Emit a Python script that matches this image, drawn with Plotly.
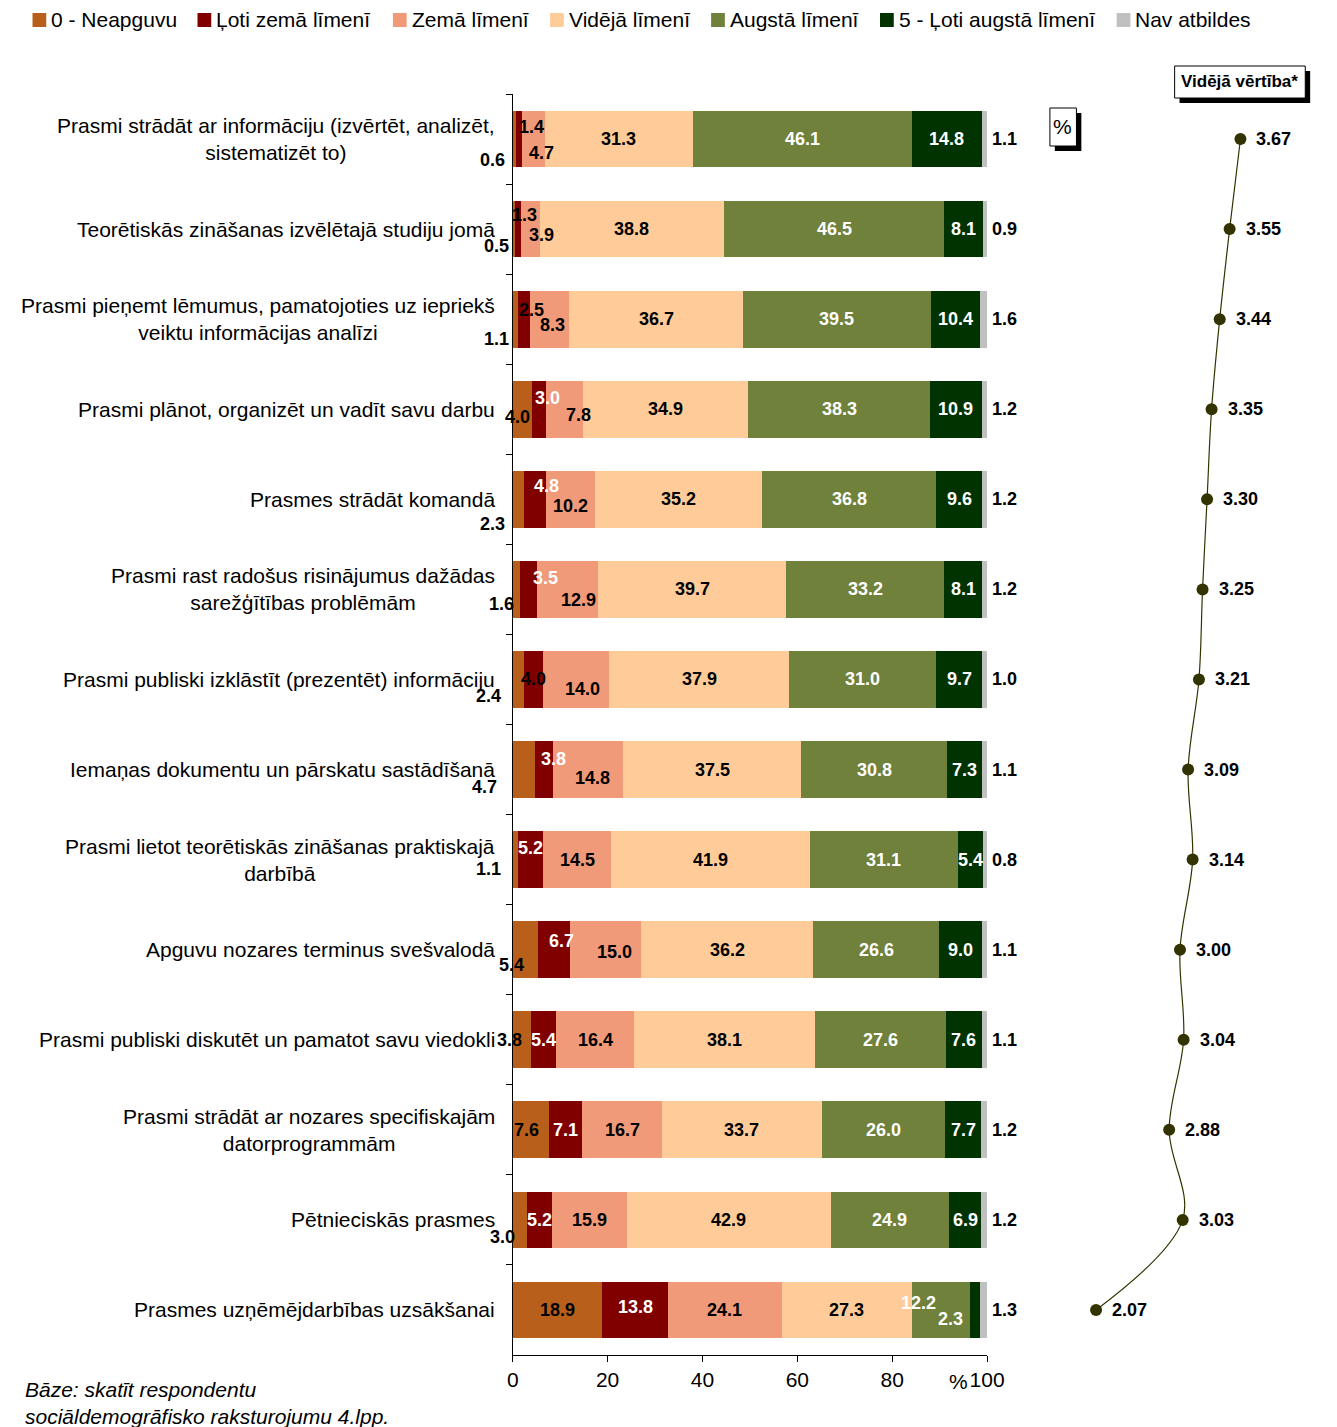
import plotly.graph_objects as go

categories = [
    "Prasmi strādāt ar informāciju (izvērtēt, analizēt,<br>sistematizēt to)",
    "Teorētiskās zināšanas izvēlētajā studiju jomā",
    "Prasmi pieņemt lēmumus, pamatojoties uz iepriekš<br>veiktu informācijas analīzi",
    "Prasmi plānot, organizēt un vadīt savu darbu",
    "Prasmes strādāt komandā",
    "Prasmi rast radošus risinājumus dažādas<br>sarežģītības problēmām",
    "Prasmi publiski izklāstīt (prezentēt) informāciju",
    "Iemaņas dokumentu un pārskatu sastādīšanā",
    "Prasmi lietot teorētiskās zināšanas praktiskajā<br>darbībā",
    "Apguvu nozares terminus svešvalodā",
    "Prasmi publiski diskutēt un pamatot savu viedokli",
    "Prasmi strādāt ar nozares specifiskajām<br>datorprogrammām",
    "Pētnieciskās prasmes",
    "Prasmes uzņēmējdarbības uzsākšanai",
]

series_names = ["0 - Neapguvu", "Ļoti zemā līmenī", "Zemā līmenī", "Vidējā līmenī",
                "Augstā līmenī", "5 - Ļoti augstā līmenī", "Nav atbildes"]

neapguvu   = [0.6, 0.5, 1.1, 4.0, 2.3, 1.6, 2.4, 4.7, 1.1, 5.4, 3.8, 7.6, 3.0, 18.9]
loti_zema  = [1.4, 1.3, 2.5, 3.0, 4.8, 3.5, 4.0, 3.8, 5.2, 6.7, 5.4, 7.1, 5.2, 13.8]
zema       = [4.7, 3.9, 8.3, 7.8, 10.2, 12.9, 14.0, 14.8, 14.5, 15.0, 16.4, 16.7, 15.9, 24.1]
videja     = [31.3, 38.8, 36.7, 34.9, 35.2, 39.7, 37.9, 37.5, 41.9, 36.2, 38.1, 33.7, 42.9, 27.3]
augsta     = [46.1, 46.5, 39.5, 38.3, 36.8, 33.2, 31.0, 30.8, 31.1, 26.6, 27.6, 26.0, 24.9, 12.2]
loti_augsta= [14.8, 8.1, 10.4, 10.9, 9.6, 8.1, 9.7, 7.3, 5.4, 9.0, 7.6, 7.7, 6.9, 2.3]
nav        = [1.1, 0.9, 1.6, 1.2, 1.2, 1.2, 1.0, 1.1, 0.8, 1.1, 1.1, 1.2, 1.2, 1.3]

mean_values = [3.67, 3.55, 3.44, 3.35, 3.30, 3.25, 3.21, 3.09, 3.14, 3.00, 3.04, 2.88, 3.03, 2.07]

x_ticks = [0, 20, 40, 60, 80, 100]

# ---- styles ----
colors = ["#B8601B", "#800000", "#F09A7A", "#FFCC99", "#6F813B", "#003300", "#C0C0C0"]
label_colors = ["black", "white", "black", "black", "white", "white", "black"]
color_override = {(0, 1): "black", (1, 1): "black", (2, 1): "black", (6, 1): "black"}
# pixel offsets (dx right, dy down) of value labels from segment centre
label_offsets = {
    (0, 0): (-22, 21), (0, 1): (13, -12), (0, 2): (8, 14),
    (1, 0): (-17, 17), (1, 1): (6, -14), (1, 2): (11, 6),
    (2, 0): (-19, 20), (2, 1): (8, -9), (2, 2): (3, 6),
    (3, 0): (-5, 8), (3, 1): (9, -11), (3, 2): (14, 6),
    (4, 0): (-26, 25), (4, 1): (11, -13), (4, 2): (0, 7),
    (5, 0): (-15, 15), (5, 1): (17, -11), (5, 2): (11, 11),
    (6, 0): (-30, 17), (6, 2): (6, 10),
    (7, 0): (-39, 17), (7, 1): (9, -11), (7, 2): (4, 8),
    (8, 0): (-27, 9), (8, 1): (0, -12),
    (9, 0): (-14, 15), (9, 1): (7, -9), (9, 2): (9, 2),
    (10, 0): (-12, 0),
    (11, 0): (-4, 0),
    (12, 0): (-17, 17),
    (13, 1): (0, -3), (13, 4): (-22, -7), (13, 5): (-24, 9),
}
legend_box_x = [27, 195, 394, 554, 718, 890, 1131]

FONT = "Liberation Sans, Arial, sans-serif"
W, H = 1337, 1427
series = [neapguvu, loti_zema, zema, videja, augsta, loti_augsta, nav]
rows = list(range(len(categories)))

fig = go.Figure()
for name, vals, col in zip(series_names, series, colors):
    fig.add_trace(go.Bar(
        y=rows, x=vals, name=name, orientation="h", width=0.63,
        marker=dict(color=col, line=dict(width=0)),
        hoverinfo="x+name", showlegend=False,
    ))

fig.add_trace(go.Scatter(
    x=mean_values, y=rows, xaxis="x2", yaxis="y", mode="lines+markers",
    line=dict(color="#333300", width=1.2, shape="spline", smoothing=1.0),
    marker=dict(color="#333300", size=12),
    showlegend=False, cliponaxis=False,
))

annotations = []
for r in rows:
    cum = 0.0
    for c, vals in enumerate(series):
        v = vals[r]
        col = color_override.get((r, c), label_colors[c])
        if c == len(series) - 1:
            annotations.append(dict(
                x=min(cum + v, 100.0), y=r, xref="x", yref="y", text=f"{v:.1f}",
                xanchor="left", yanchor="middle", xshift=3, showarrow=False,
                font=dict(family=FONT, size=18, color="black", weight="bold")))
        else:
            dx, dy = label_offsets.get((r, c), (0, 0))
            annotations.append(dict(
                x=cum + v / 2, y=r, xref="x", yref="y", text=f"{v:.1f}",
                xanchor="center", yanchor="middle",
                xshift=dx, yshift=-dy, showarrow=False,
                font=dict(family=FONT, size=18, color=col, weight="bold")))
        cum += v
    annotations.append(dict(
        x=500 / W, y=r, xref="paper", yref="y", text=categories[r],
        xanchor="right", yanchor="middle", align="center", showarrow=False,
        font=dict(family=FONT, size=21, color="black")))
    annotations.append(dict(
        x=mean_values[r], y=r, xref="x2", yref="y", text=f"{mean_values[r]:.2f}",
        xanchor="left", yanchor="middle", xshift=14, showarrow=False,
        font=dict(family=FONT, size=18, color="black", weight="bold")))

annotations += [
    dict(x=1256 / W, y=1 - 81 / H, xref="paper", yref="paper", text="Vidējā vērtība*",
         xanchor="center", yanchor="middle",
         showarrow=False, font=dict(family=FONT, size=17, color="black", weight="bold")),
    dict(x=1076 / W, y=1 - 126 / H, xref="paper", yref="paper", text="%",
         xanchor="center", yanchor="middle",
         showarrow=False, font=dict(family=FONT, size=21, color="black")),
    dict(x=970 / W, y=1 - 1381 / H, xref="paper", yref="paper", text="%",
         xanchor="center", yanchor="middle",
         showarrow=False, font=dict(family=FONT, size=21, color="black")),
    dict(x=17 / W, y=1 - 1376 / H, xref="paper", yref="paper",
         text="<i>Bāze: skatīt respondentu<br>sociāldemogrāfisko raksturojumu 4.lpp.</i>",
         xanchor="left", yanchor="top", align="left", showarrow=False,
         font=dict(family=FONT, size=21, color="black")),
]

def rect(x0, y0, x1, y1, fill, line_w, layer="above"):
    return dict(type="rect", xref="paper", yref="paper",
                x0=x0 / W, x1=x1 / W, y0=1 - y1 / H, y1=1 - y0 / H,
                fillcolor=fill, line=dict(color="black", width=line_w), layer=layer)

shapes = [
    rect(1195, 71, 1328, 103, "black", 0),
    rect(1190, 66, 1323, 98, "white", 1),
    rect(1068, 113, 1095, 151, "black", 0),
    rect(1063, 108, 1090, 146, "white", 1),
]

for bx, name, col in zip(legend_box_x, series_names, colors):
    shapes.append(dict(type="rect", xref="paper", yref="paper",
                       x0=bx / W, x1=(bx + 14) / W, y0=1 - 27 / H, y1=1 - 13 / H,
                       fillcolor=col, line=dict(width=0)))
    annotations.append(dict(x=(bx + 17) / W, y=1 - 19.5 / H, xref="paper", yref="paper",
                            text=name, xanchor="left", yanchor="middle", showarrow=False,
                            font=dict(family=FONT, size=21, color="black")))

fig.update_layout(
    width=W, height=H,
    margin=dict(l=0, r=0, t=0, b=0),
    autosize=False,
    barmode="stack",
    paper_bgcolor="white", plot_bgcolor="white",
    font=dict(family=FONT, size=21, color="black"),
    xaxis=dict(domain=[516 / W, 999 / W], range=[0, 100], tickvals=x_ticks,
               showline=True, linecolor="black", linewidth=1, ticks="outside",
               ticklen=6, tickcolor="black", showgrid=False, zeroline=False,
               tickfont=dict(family=FONT, size=21), anchor="y"),
    xaxis2=dict(domain=[1057.6 / W, 1333.3 / W], range=[1.5, 4.5], visible=False,
                anchor="y", showgrid=False, zeroline=False),
    yaxis=dict(domain=[1 - 1355 / H, 1 - 94 / H], range=[13.5, -0.5],
               tickvals=[r + 0.5 for r in rows[:-1]] + [-0.5], showticklabels=False,
               ticks="outside", ticklen=6, tickcolor="black",
               showline=True, linecolor="black", linewidth=1,
               showgrid=False, zeroline=False),
    annotations=annotations,
    shapes=shapes,
    showlegend=False,
)

post = ("document.body.style.margin='0';document.body.style.padding='0';"
        "document.documentElement.style.overflow='hidden';")
fig.write_html("out.html", config={"responsive": False, "displayModeBar": False}, post_script=post)
